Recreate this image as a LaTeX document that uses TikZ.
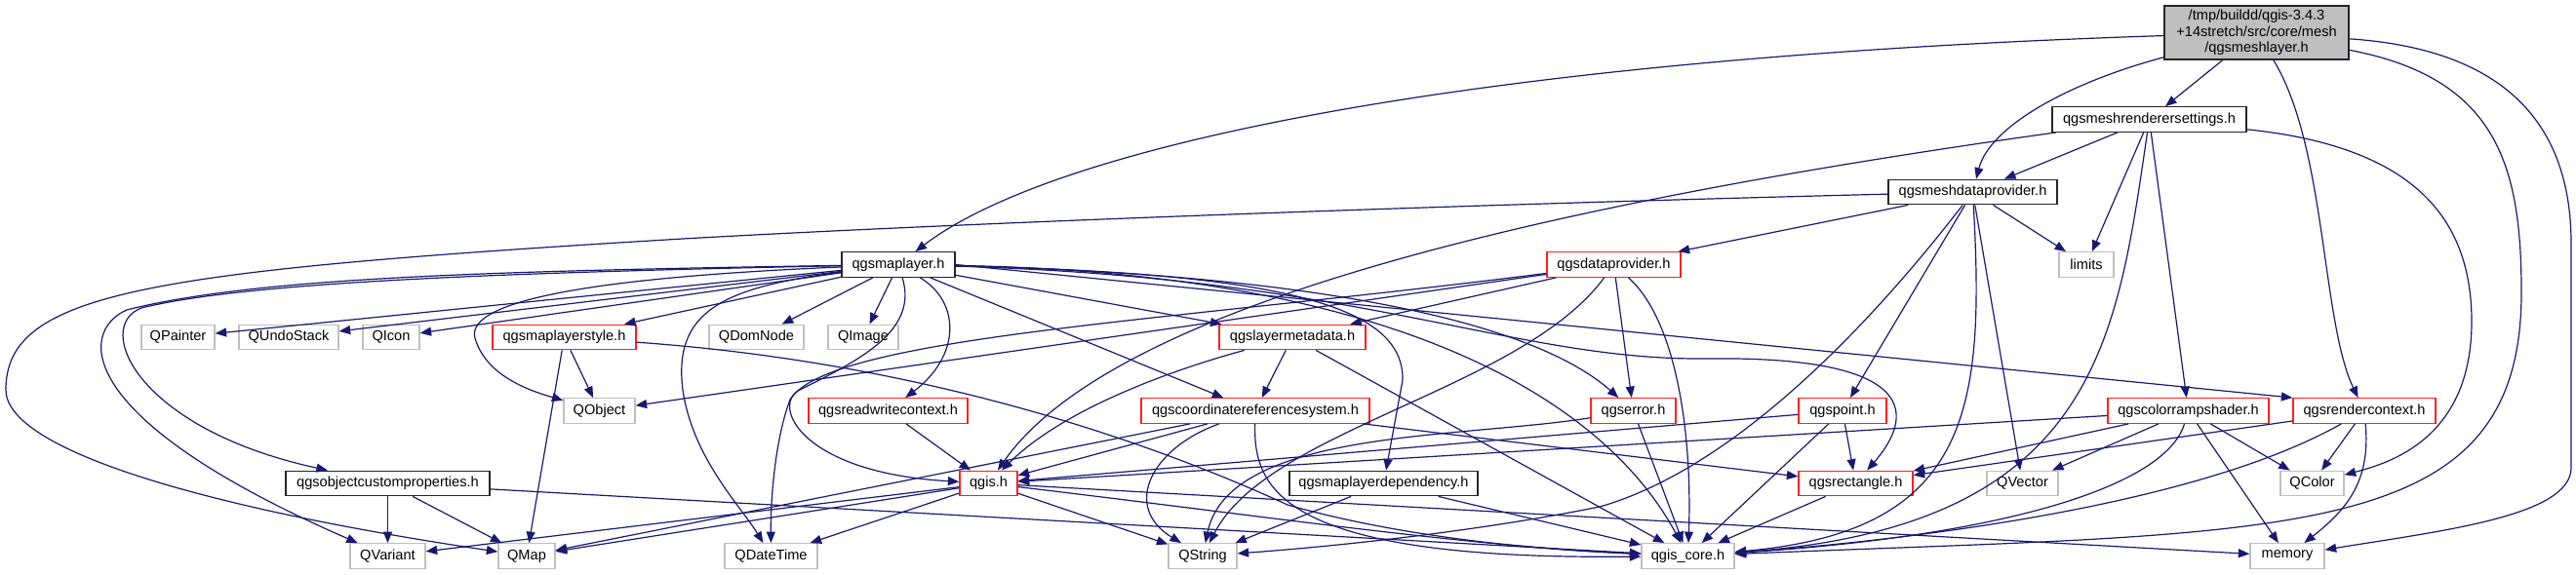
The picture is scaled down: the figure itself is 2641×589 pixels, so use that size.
\documentclass[tikz,border=0pt]{standalone}
\usepackage{fontspec}
\setmainfont{Liberation Sans}
\usetikzlibrary{arrows.meta}
\definecolor{edgec}{HTML}{191970}
\definecolor{extb}{HTML}{BFBFBF}
\definecolor{rootf}{HTML}{BFBFBF}
\definecolor{redb}{HTML}{FF2020}
\newcommand\mknode[6]{\node[#1, minimum width=#2pt, minimum height=#3pt] (#4) at (#5) {#6};}
\begin{document}
\begin{tikzpicture}[x=1pt,y=-1pt,
  nb/.style={rectangle, inner sep=0pt, line width=1.3pt, text=black, font=\fontsize{14.6}{16.5}\selectfont},
  blk/.style={nb, draw=black!85},
  redn/.style={nb, draw=redb},
  ext/.style={nb, draw=extb},
  rootn/.style={nb, draw=black!85, fill=rootf, align=center},
  dep/.style={draw=edgec, line width=1.2pt, -{Triangle[length=11.5pt,width=9pt]}}]
\useasboundingbox (0,0) rectangle (2641,589);
% nodes
\mknode{rootn}{189}{55}{M}{2313.5,33.5}{/tmp/buildd/qgis-3.4.3\\+14stretch/src/core/mesh\\/qgsmeshlayer.h}
\mknode{blk}{116}{25.5}{ML}{921,271.5}{qgsmaplayer.h}
\mknode{blk}{199}{25.5}{RS}{2203.5,122.5}{qgsmeshrenderersettings.h}
\mknode{blk}{173}{25.5}{DP}{2022.5,197}{qgsmeshdataprovider.h}
\mknode{ext}{56}{25.5}{LIM}{2139,271.5}{limits}
\mknode{redn}{137}{25.5}{DPV}{1654.5,271.5}{qgsdataprovider.h}
\mknode{ext}{75}{25.5}{QPA}{182.5,346}{QPainter}
\mknode{ext}{102}{25.5}{QUS}{296,346}{QUndoStack}
\mknode{ext}{58}{25.5}{QIC}{401,346}{QIcon}
\mknode{redn}{147}{25.5}{MLS}{578.5,346}{qgsmaplayerstyle.h}
\mknode{ext}{97}{25.5}{QDN}{775.5,346}{QDomNode}
\mknode{ext}{72}{25.5}{QIM}{885,346}{QImage}
\mknode{redn}{150}{25.5}{LM}{1325,346}{qgslayermetadata.h}
\mknode{ext}{73}{25.5}{QOB}{614.5,421.5}{QObject}
\mknode{redn}{163}{25.5}{RWC}{910.5,421.5}{qgsreadwritecontext.h}
\mknode{redn}{234}{25.5}{CRS}{1287,421.5}{qgscoordinatereferencesystem.h}
\mknode{redn}{87}{25.5}{QE}{1674.5,421.5}{qgserror.h}
\mknode{redn}{90}{25.5}{QP}{1889,421.5}{qgspoint.h}
\mknode{redn}{165}{25.5}{CR}{2243.5,421.5}{qgscolorrampshader.h}
\mknode{redn}{146}{25.5}{RC}{2424,421.5}{qgsrendercontext.h}
\mknode{blk}{209}{25.5}{OCP}{397.5,496}{qgsobjectcustomproperties.h}
\mknode{redn}{59}{25.5}{QG}{1013.5,496}{qgis.h}
\mknode{blk}{193}{25.5}{MD}{1418.5,496}{qgsmaplayerdependency.h}
\mknode{redn}{117}{25.5}{QR}{1902.5,496}{qgsrectangle.h}
\mknode{ext}{73}{25.5}{QVE}{2073.5,496}{QVector}
\mknode{ext}{65}{25.5}{QCO}{2370.5,496}{QColor}
\mknode{ext}{77}{25.5}{QVA}{397.5,570.5}{QVariant}
\mknode{ext}{58}{25.5}{QMA}{540,570.5}{QMap}
\mknode{ext}{95}{25.5}{QDT}{790.5,570.5}{QDateTime}
\mknode{ext}{70}{25.5}{QS}{1233,570.5}{QString}
\mknode{ext}{95}{25.5}{QC}{1730.5,570.5}{qgis\_core.h}
\mknode{ext}{76}{25.5}{MEM}{2345,570.5}{memory}
% root
\draw[dep] (M) .. controls (1500,60) and (1080,150) .. (ML);
\draw[dep] (M) -- (RS);
\draw[dep] (M) .. controls (2120,85) and (2040,130) .. (DP);
\draw[dep] (M) .. controls (2385,150) and (2380,330) .. (RC);
\draw[dep] (M) .. controls (2560,80) and (2585,170) .. (2585,300) .. controls (2585,560) and (2350,545) .. (QC);
\draw[dep] (M) .. controls (2560,50) and (2636,120) .. (2636,250) -- (2636,480) .. controls (2636,530) and (2500,545) .. (MEM);
% renderer settings
\draw[dep] (RS) -- (DP);
\draw[dep] (RS) .. controls (1650,200) and (1150,300) .. (QG);
\draw[dep] (RS) -- (LIM);
\draw[dep] (RS) .. controls (2170,350) and (2150,540) .. (QC);
\draw[dep] (RS) -- (CR);
\draw[dep] (RS) .. controls (2470,150) and (2534,220) .. (2534,330) .. controls (2534,450) and (2450,475) .. (QCO);
% mesh data provider
\draw[dep] (DP) .. controls (1500,210) and (1000,228) .. (700,245) .. controls (150,278) and (6,300) .. (6,400) .. controls (6,460) and (200,520) .. (QMA);
\draw[dep] (DP) -- (DPV);
\draw[dep] (DP) -- (LIM);
\draw[dep] (DP) -- (QP);
\draw[dep] (DP) .. controls (1920,330) and (1780,480) .. (1640,520) .. controls (1500,548) and (1350,562) .. (QS);
\draw[dep] (DP) .. controls (2035,420) and (2020,545) .. (QC);
\draw[dep] (DP) -- (QVE);
% map layer
\draw[dep] (ML) -- (QPA);
\draw[dep] (ML) -- (QUS);
\draw[dep] (ML) -- (QIC);
\draw[dep] (ML) -- (MLS);
\draw[dep] (ML) -- (QDN);
\draw[dep] (ML) -- (QIM);
\draw[dep] (ML) .. controls (600,285) and (470,310) .. (488,350) .. controls (500,385) and (540,400) .. (QOB);
\draw[dep] (ML) .. controls (740,295) and (690,320) .. (700,400) .. controls (710,470) and (760,520) .. (QDT);
\draw[dep] (ML) .. controls (500,278) and (260,285) .. (130,318) .. controls (80,340) and (75,430) .. (QVA);
\draw[dep] (ML) .. controls (500,280) and (250,290) .. (145,316) .. controls (95,335) and (140,440) .. (OCP);
\draw[dep] (ML) .. controls (985,310) and (985,365) .. (RWC);
\draw[dep] (ML) .. controls (942,340) and (880,370) .. (820,400) .. controls (790,415) and (820,485) .. (QG);
\draw[dep] (ML) -- (LM);
\draw[dep] (ML) -- (CRS);
\draw[dep] (ML) .. controls (1300,280) and (1440,310) .. (1438,390) -- (MD);
\draw[dep] (ML) .. controls (1300,280) and (1560,320) .. (QE);
\draw[dep] (ML) .. controls (1400,285) and (1550,370) .. (1750,368) .. controls (1975,365) and (1960,430) .. (QR);
\draw[dep] (ML) .. controls (1450,280) and (1650,420) .. (QC);
\draw[dep] (ML.east) -- (RC.north west);
% data provider
\draw[dep] (DPV) -- (LM);
\draw[dep] (DPV) -- (QOB);
\draw[dep] (DPV) .. controls (1200,330) and (850,345) .. (810,410) .. controls (795,450) and (790,510) .. (QDT);
\draw[dep] (DPV) -- (QE);
\draw[dep] (DPV) .. controls (1720,330) and (1735,450) .. (QC);
\draw[dep] (DPV) .. controls (1560,400) and (1300,440) .. (QS);
% map layer style
\draw[dep] (MLS) -- (QOB);
\draw[dep] (MLS) -- (QMA);
\draw[dep] (MLS) .. controls (920,370) and (1150,440) .. (1320,518) .. controls (1450,555) and (1600,565) .. (QC);
% object custom properties
\draw[dep] (OCP) -- (QVA);
\draw[dep] (OCP) -- (QMA);
\draw[dep] (OCP) -- (QC);
% read write context
\draw[dep] (RWC) -- (QG);
% qgis.h
\draw[dep] (QG) -- (QVA);
\draw[dep] (QG) -- (QMA);
\draw[dep] (QG) -- (QDT);
\draw[dep] (QG) -- (QS);
\draw[dep] (QG) .. controls (1300,530) and (1500,560) .. (QC);
\draw[dep] (QG) -- (MEM);
% crs
\draw[dep] (CRS) -- (QG);
\draw[dep] (CRS) -- (QMA);
\draw[dep] (CRS) .. controls (1180,460) and (1150,520) .. (QS);
\draw[dep] (CRS) .. controls (1285,500) and (1310,575) .. (QC);
\draw[dep] (CRS) -- (QR);
% layer metadata
\draw[dep] (LM) -- (CRS);
\draw[dep] (LM) .. controls (1200,380) and (1090,420) .. (QG);
\draw[dep] (LM) -- (QC);
% error
\draw[dep] (QE) .. controls (1500,450) and (1260,440) .. (QS);
\draw[dep] (QE) -- (QC);
% map layer dependency
\draw[dep] (MD) -- (QS);
\draw[dep] (MD) -- (QC);
% point
\draw[dep] (QP) -- (QG);
\draw[dep] (QP) -- (QR);
\draw[dep] (QP) -- (QC);
% rectangle
\draw[dep] (QR) -- (QC);
% color ramp shader
\draw[dep] (CR) -- (QG);
\draw[dep] (CR) -- (QR);
\draw[dep] (CR) -- (QVE);
\draw[dep] (CR) .. controls (2220,500) and (2050,550) .. (QC);
\draw[dep] (CR) -- (MEM);
\draw[dep] (CR) -- (QCO);
% render context
\draw[dep] (RC) -- (QR);
\draw[dep] (RC) .. controls (2250,520) and (1950,555) .. (QC);
\draw[dep] (RC) -- (QCO);
\draw[dep] (RC) .. controls (2430,490) and (2410,520) .. (MEM);
\end{tikzpicture}
\end{document}
